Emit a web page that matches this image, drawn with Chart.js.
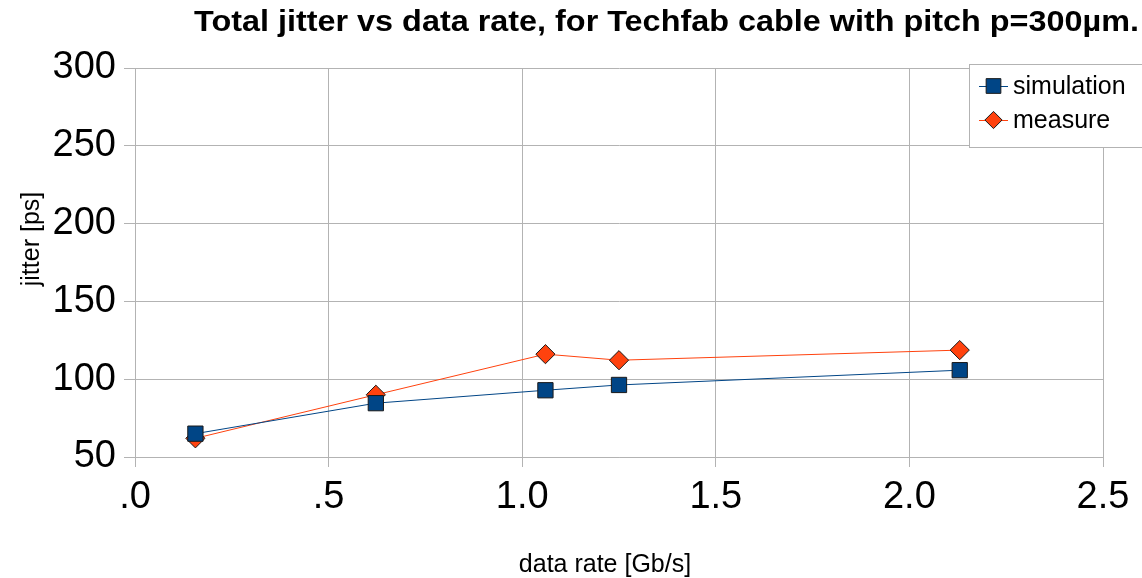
<!DOCTYPE html>
<html><head><meta charset="utf-8">
<script src="https://cdn.jsdelivr.net/npm/chart.js@4/dist/chart.umd.min.js"></script>
<style>html,body{margin:0;padding:0;background:#fff}#wrap{width:1142px;height:578px;position:relative}</style>
</head><body><div id="wrap"><canvas id="c" width="1142" height="578"></canvas></div>
<script>
const chartTitle = 'Total jitter vs data rate, for Techfab cable with pitch p=300µm.';
const xAxisTitle = 'data rate [Gb/s]';
const yAxisTitle = 'jitter [ps]';
const seriesNames = ['simulation', 'measure'];
const dataRates = [0.156, 0.622, 1.06, 1.25, 2.13];
const simulationJitter = [65, 84.6, 92.9, 96.3, 105.8];
const measureJitter = [62, 90, 116.1, 112.2, 118.7];
const xTickLabels = ['.0', '.5', '1.0', '1.5', '2.0', '2.5'];
const yTickValues = [50, 100, 150, 200, 250, 300];

const BLUE = '#004586', ORANGE = '#ff420e', GRID = '#b3b3b3';
const FONT = '"Liberation Sans", Arial, sans-serif';

const toPts = ys => dataRates.map((x, i) => ({x: x, y: ys[i]}));

function drawMarker(ctx, style, x, y, r, fill) {
  ctx.save();
  ctx.fillStyle = fill; ctx.strokeStyle = '#1a1a1a'; ctx.lineWidth = 1;
  ctx.beginPath();
  if (style === 'rect') {
    const s = r * Math.SQRT1_2;
    ctx.rect(x - s, y - s, 2 * s, 2 * s);
  } else {
    ctx.moveTo(x, y - r); ctx.lineTo(x + r, y); ctx.lineTo(x, y + r); ctx.lineTo(x - r, y); ctx.closePath();
  }
  ctx.fill(); ctx.stroke();
  ctx.restore();
}

const decor = {
  id: 'decor',
  afterDraw(chart) {
    const ctx = chart.ctx;
    ctx.save();
    // title
    ctx.font = 'bold 30px ' + FONT;
    ctx.fillStyle = '#000';
    ctx.textBaseline = 'alphabetic';
    ctx.textAlign = 'left';
    const w = ctx.measureText(chartTitle).width;
    const targetW = 945;
    ctx.save();
    ctx.translate(194, 30.5);
    ctx.scale(targetW / w, 1);
    ctx.fillText(chartTitle, 0, 0);
    ctx.restore();
    // axis titles
    ctx.font = '25px ' + FONT;
    ctx.textAlign = 'center';
    ctx.fillText(xAxisTitle, 605, 572);
    ctx.save();
    ctx.translate(38.5, 239);
    ctx.rotate(-Math.PI / 2);
    ctx.textBaseline = 'alphabetic';
    ctx.fillText(yAxisTitle, 0, 0);
    ctx.restore();
    // legend
    ctx.fillStyle = '#fff';
    ctx.strokeStyle = GRID; ctx.lineWidth = 1;
    ctx.fillRect(969.5, 64.5, 200, 83);
    ctx.strokeRect(969.5, 64.5, 200, 83);
    const items = [
      {name: seriesNames[0], color: BLUE, style: 'rect', r: 10.4, y: 86},
      {name: seriesNames[1], color: ORANGE, style: 'rectRot', r: 8.6, y: 120}
    ];
    items.forEach(it => {
      ctx.strokeStyle = it.color; ctx.lineWidth = 1;
      ctx.beginPath(); ctx.moveTo(979, it.y + 0.5); ctx.lineTo(1008, it.y + 0.5); ctx.stroke();
      drawMarker(ctx, it.style, 993.5, it.y, it.r, it.color);
      ctx.fillStyle = '#000';
      ctx.font = '25px ' + FONT;
      ctx.textAlign = 'left';
      ctx.textBaseline = 'middle';
      ctx.fillText(it.name, 1013, it.y + 1.5);
    });
    ctx.restore();
  }
};

new Chart(document.getElementById('c'), {
  type: 'scatter',
  data: {
    datasets: [
      {label: seriesNames[0], data: toPts(simulationJitter), showLine: true,
       borderColor: BLUE, borderWidth: 1, backgroundColor: BLUE,
       pointStyle: 'rect', pointRadius: 10.8, pointBorderColor: '#1a1a1a', pointBorderWidth: 1,
       pointBackgroundColor: BLUE, pointHoverRadius: 10.8, tension: 0},
      {label: seriesNames[1], data: toPts(measureJitter), showLine: true,
       borderColor: ORANGE, borderWidth: 1, backgroundColor: ORANGE,
       pointStyle: 'rectRot', pointRadius: 9.6, pointBorderColor: '#1a1a1a', pointBorderWidth: 1,
       pointBackgroundColor: ORANGE, pointHoverRadius: 9.6, tension: 0}
    ]
  },
  options: {
    responsive: false,
    animation: false,
    devicePixelRatio: 1,
    layout: {padding: {top: 68, right: 39, bottom: 0, left: 0}},
    plugins: {legend: {display: false}, title: {display: false}, tooltip: {enabled: false}},
    scales: {
      x: {
        type: 'linear', min: 0, max: 2.5,
        afterFit: s => { s.height = 121; },
        afterBuildTicks: s => { s.ticks = xTickLabels.map((_, i) => ({value: i * 0.5})); },
        ticks: {
          autoSkip: false, maxRotation: 0, color: '#000', padding: 8,
          font: {family: FONT, size: 38},
          callback: (v, i) => xTickLabels[i]
        },
        grid: {color: GRID, lineWidth: 1, tickLength: 10, drawTicks: true},
        border: {color: GRID, width: 1}
      },
      y: {
        type: 'linear', min: 50, max: 300,
        afterFit: s => { s.width = 135; },
        afterBuildTicks: s => { s.ticks = yTickValues.map(v => ({value: v})); },
        ticks: {
          color: '#000', padding: 8,
          font: {family: FONT, size: 38},
          callback: v => String(v)
        },
        grid: {color: GRID, lineWidth: 1, tickLength: 11, drawTicks: true},
        border: {color: GRID, width: 1}
      }
    }
  },
  plugins: [decor]
});
</script></body></html>
